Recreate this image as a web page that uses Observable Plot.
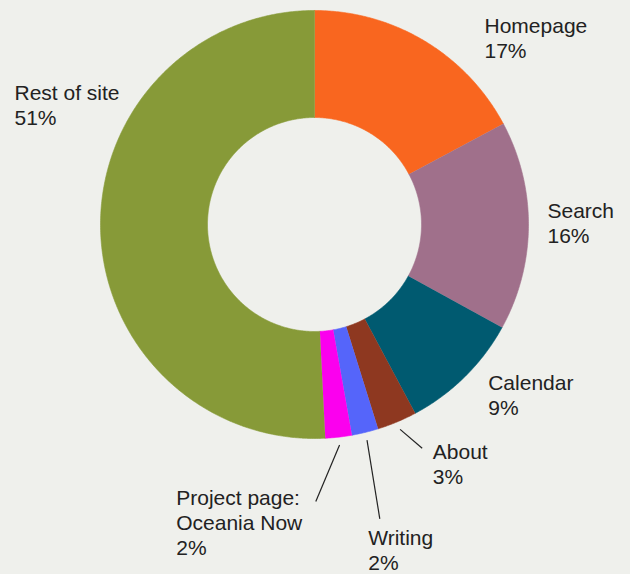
<!DOCTYPE html>
<html><head><meta charset="utf-8">
<script src="https://cdn.jsdelivr.net/npm/d3@7"></script>
<script src="https://cdn.jsdelivr.net/npm/@observablehq/plot@0.6"></script>
<style>html,body{margin:0;padding:0;background:#eff0ec;}</style>
</head><body><div id="chart"></div>
<script>
// ---- data ----
const categories = ["Homepage", "Search", "Calendar", "About", "Writing", "Project page:\nOceania Now", "Rest of site"];
const shares = [17.2, 15.8, 9.2, 3.0, 2.0, 2.0, 50.8];
const pctLabels = ["17%", "16%", "9%", "3%", "2%", "2%", "51%"];
const colors = ["#f9661f", "#a0708b", "#005a70", "#8e3820", "#5565fa", "#fb00ee", "#879a38"];

// ---- layout (pixels) ----
const W = 630, H = 574, cx = 314, cy = 224, R = 214, R0 = 107;
const fontSize = 21, lineHeight = 1.205;
const labelPos = [[484, 32.3], [547, 217.3], [487.7, 389.3], [432.3, 458.3], [367.7, 544.3], [175.7, 504], [14, 99.3]];
const leaderEnd = [null, null, null, [421.7, 447.7], [379.3, 518.3], [315.3, 501], null];
const leaderStartR = 222;

const total = d3.sum(shares);
let acc = 0;
const slices = categories.map((c, i) => {
  const a0 = acc / total * 2 * Math.PI; acc += shares[i];
  const a1 = acc / total * 2 * Math.PI;
  return {c, i, a0, a1, mid: (a0 + a1) / 2};
});
const poly = [];
for (const s of slices) {
  const n = Math.max(4, Math.ceil((s.a1 - s.a0) / 0.008));
  for (let k = 0; k <= n; k++) { const a = s.a0 + (s.a1 - s.a0) * k / n; poly.push({c: s.c, x: R * Math.sin(a), y: R * Math.cos(a)}); }
  for (let k = n; k >= 0; k--) { const a = s.a0 + (s.a1 - s.a0) * k / n; poly.push({c: s.c, x: R0 * Math.sin(a), y: R0 * Math.cos(a)}); }
}
const firstBaseline = 0.71 * lineHeight * fontSize;
const labels = slices.map(s => ({
  text: categories[s.i] + "\n" + pctLabels[s.i],
  x: labelPos[s.i][0] - cx,
  y: cy - (labelPos[s.i][1] - firstBaseline)
}));
const leaders = slices.filter(s => leaderEnd[s.i]).map(s => ({
  x1: leaderStartR * Math.sin(s.mid), y1: leaderStartR * Math.cos(s.mid),
  x2: leaderEnd[s.i][0] - cx, y2: cy - leaderEnd[s.i][1]
}));

const chart = Plot.plot({
  width: W, height: H, margin: 0,
  x: {domain: [-cx, W - cx], axis: null},
  y: {domain: [-(H - cy), cy], axis: null},
  color: {domain: categories, range: colors},
  style: {background: "#eff0ec", overflow: "visible"},
  marks: [
    Plot.line(poly, {x: "x", y: "y", z: "c", fill: "c", stroke: "c", strokeWidth: 0.6}),
    Plot.link(leaders, {x1: "x1", y1: "y1", x2: "x2", y2: "y2", stroke: "#222", strokeWidth: 1.2}),
    Plot.text(labels, {x: "x", y: "y", text: "text", textAnchor: "start", lineAnchor: "top",
      lineHeight, fontSize, fill: "#222", fontFamily: "'Liberation Sans', Arial, sans-serif"})
  ]
});
document.getElementById("chart").appendChild(chart);
</script>
</body></html>
